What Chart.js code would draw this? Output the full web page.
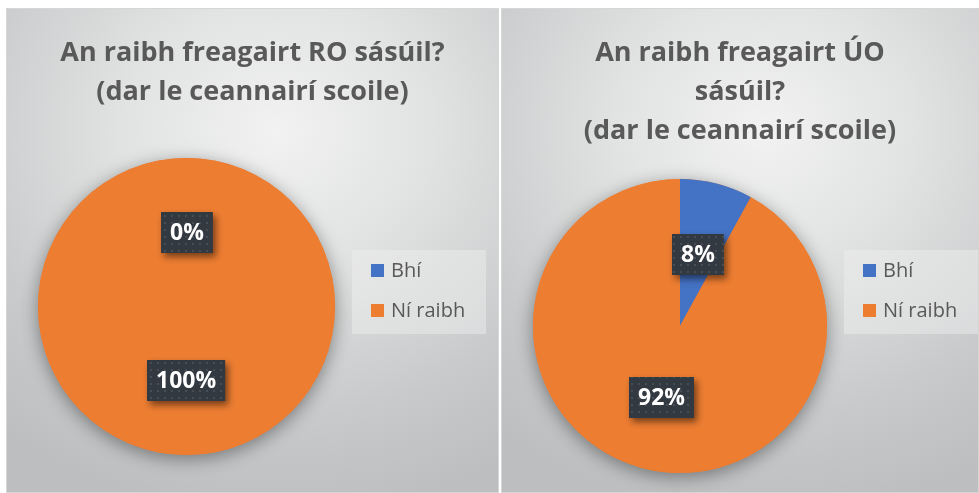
<!DOCTYPE html>
<html>
<head>
<meta charset="utf-8">
<script src="https://cdn.jsdelivr.net/npm/chart.js@4.4.1/dist/chart.umd.min.js"></script>
<style>
  html, body { margin: 0; padding: 0; background: #fff; }
  body { width: 979px; height: 493px; position: relative; overflow: hidden; font-family: 'Open Sans', sans-serif; }
  .panel {
    position: absolute; top: 8px; height: 485px;
    box-sizing: border-box; border: 1px solid #d6d6d6;
    background: radial-gradient(ellipse 90% 80% at 55% 25%, #f2f2f2 0%, #e1e2e2 35%, #c7c9ca 75%, #bcbebf 100%);
  }
  #p1 { left: 6px; width: 493px; }
  #p2 { left: 501px; width: 478px; }
  .panel canvas { position: absolute; left: 0; top: 0; }
  .title {
    position: absolute; left: 0; right: 0; top: 22px;
    text-align: center; color: #595959;
    font: bold 27px/39px 'Open Sans', sans-serif;
  }
  .legend {
    position: absolute; top: 241px; width: 134px; height: 84px;
    background: rgba(240, 240, 240, 0.45);
  }
  .legend .item {
    position: absolute; left: 19px; height: 13px;
    font: 20px 'Open Sans', sans-serif; color: #595959;
  }
  .legend .sw { position: absolute; left: 0; top: 0; width: 13px; height: 13px; }
  .legend .lbl { position: absolute; left: 20px; top: -7px; line-height: 26px; white-space: nowrap; }
</style>
</head>
<body>
<div class="panel" id="p1">
  <canvas id="c1" width="493" height="485"></canvas>
  <div class="title" id="t1"></div>
  <div class="legend" id="l1" style="left:345px"></div>
</div>
<div class="panel" id="p2">
  <canvas id="c2" width="478" height="485"></canvas>
  <div class="title" id="t2"></div>
  <div class="legend" id="l2" style="left:342px"></div>
</div>
<script>
'use strict';

// ─── data ───
const labels   = ['Bhí', 'Ní raibh'];
const roValues = [0, 100];
const uoValues = [8, 92];
const colors   = ['#4472C4', '#ED7D31'];
const roTitle  = ['An raibh freagairt RO sásúil?', '(dar le ceannairí scoile)'];
const uoTitle  = ['An raibh freagairt ÚO', 'sásúil?', '(dar le ceannairí scoile)'];

// dotted dark fill used behind the data labels
function makeDotPattern(ctx) {
  const p = document.createElement('canvas');
  p.width = 7; p.height = 7;
  const pc = p.getContext('2d');
  pc.fillStyle = '#333940';
  pc.fillRect(0, 0, 7, 7);
  pc.fillStyle = '#474d54';
  pc.fillRect(3, 3, 2, 2);
  return ctx.createPattern(p, 'repeat');
}

// soft drop shadow under the whole pie
const pieShadow = {
  id: 'pieShadow',
  beforeDatasetsDraw(chart) {
    const arc = chart.getDatasetMeta(0).data[0];
    if (!arc) return;
    const { x, y, outerRadius } = arc.getProps(['x', 'y', 'outerRadius'], true);
    const ctx = chart.ctx;
    ctx.save();
    ctx.shadowColor = 'rgba(0,0,0,0.4)';
    ctx.shadowBlur = 18;
    ctx.shadowOffsetY = 4;
    ctx.fillStyle = colors[1];
    ctx.beginPath();
    ctx.arc(x, y, outerRadius, 0, Math.PI * 2);
    ctx.fill();
    ctx.restore();
  },
};

// percentage labels in dark boxes at half radius
const boxLabels = {
  id: 'boxLabels',
  afterDatasetsDraw(chart) {
    const ctx = chart.ctx;
    const ds = chart.data.datasets[0];
    const pattern = makeDotPattern(ctx);
    chart.getDatasetMeta(0).data.forEach((arc, i) => {
      const pos = arc.tooltipPosition(true);
      const txt = ds.data[i] + '%';
      ctx.save();
      ctx.font = "bold 23px 'Open Sans', sans-serif";
      const w = ctx.measureText(txt).width + 18;
      const h = 41;
      const bx = Math.round(pos.x - w / 2), by = Math.round(pos.y - h / 2);
      ctx.shadowColor = 'rgba(0,0,0,0.5)';
      ctx.shadowBlur = 7;
      ctx.shadowOffsetX = 3;
      ctx.shadowOffsetY = 4;
      ctx.fillStyle = pattern;
      ctx.fillRect(bx, by, w, h);
      ctx.shadowColor = 'transparent';
      ctx.fillStyle = '#ffffff';
      ctx.textAlign = 'center';
      ctx.textBaseline = 'middle';
      ctx.fillText(txt, bx + w / 2, by + h / 2 + 1);
      ctx.restore();
    });
  },
};

function buildLegend(el) {
  el.innerHTML = labels.map((l, i) =>
    `<div class="item" style="top:${14 + i * 40}px">` +
    `<span class="sw" style="background:${colors[i]}"></span>` +
    `<span class="lbl">${l}</span></div>`
  ).join('');
}

function renderPie(canvasId, values, padding) {
  return new Chart(document.getElementById(canvasId), {
    type: 'pie',
    data: {
      labels,
      datasets: [{
        data: values,
        backgroundColor: colors,
        borderWidth: 0,
        hoverOffset: 0,
      }],
    },
    options: {
      responsive: false,
      animation: false,
      events: [],
      layout: { padding },
      plugins: {
        legend: { display: false },
        title: { display: false },
        tooltip: { enabled: false },
      },
    },
    plugins: [pieShadow, boxLabels],
  });
}

document.getElementById('t1').innerHTML = roTitle.join('<br>');
document.getElementById('t2').innerHTML = uoTitle.join('<br>');
buildLegend(document.getElementById('l1'));
buildLegend(document.getElementById('l2'));

renderPie('c1', roValues, { left: 31, right: 165, top: 149, bottom: 39 });
renderPie('c2', uoValues, { left: 31, right: 153, top: 170, bottom: 21 });
</script>
</body>
</html>
